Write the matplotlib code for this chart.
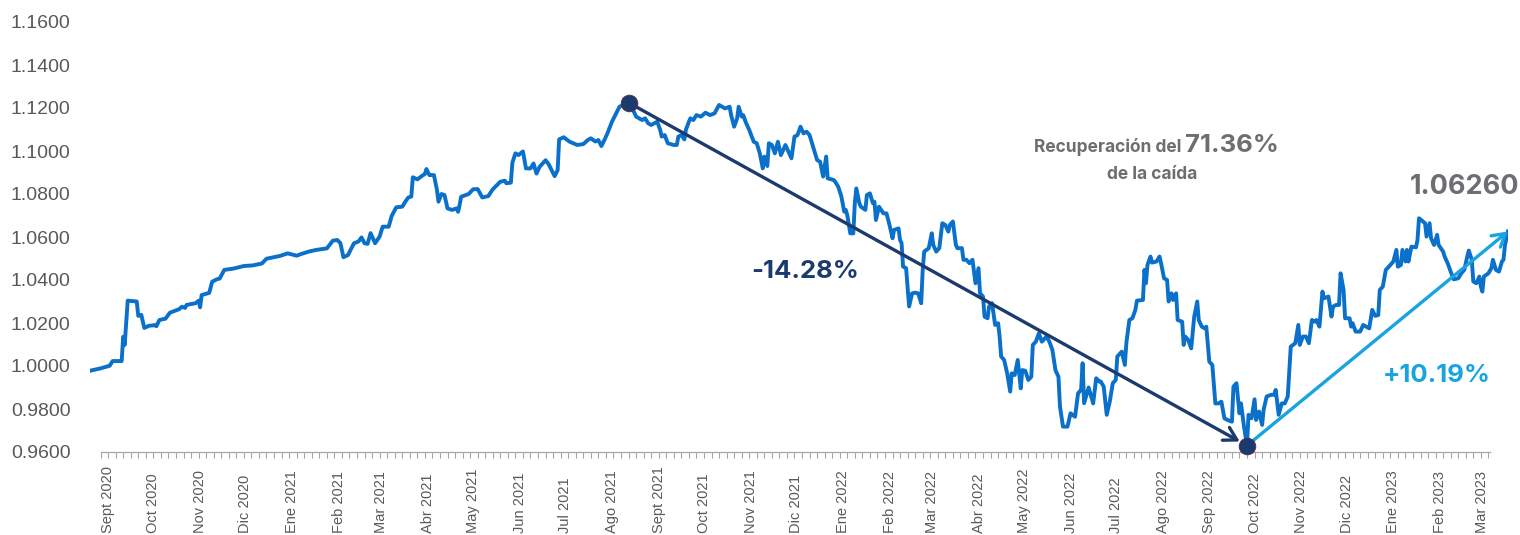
import matplotlib
matplotlib.use("Agg")
import matplotlib.pyplot as plt
import matplotlib.dates as mdates
import matplotlib.transforms as mtransforms
from matplotlib.ticker import FormatStrFormatter
import numpy as np
import pandas as pd

# ---- data ------------------------------------------------------------------
START = "2020-08-20"

day_offset = [
    0, 7, 13, 15, 21, 22, 23, 25, 31, 32, 34, 36, 39, 43, 44, 46, 50, 53, 59, 61,
    63, 64, 70, 72, 73, 74, 79, 81, 84, 86, 89, 95, 102, 108, 114, 117, 126, 131,
    137, 140, 145, 150, 157, 161, 164, 166, 168, 171, 175, 178, 180, 182, 184,
    186, 189, 192, 194, 198, 200, 203, 207, 209, 211, 213, 214, 217, 220, 222,
    223, 225, 228, 230, 231, 233, 235, 237, 240, 243, 244, 245, 246, 251, 254,
    257, 260, 264, 267, 272, 275, 276, 279, 280, 282, 284, 287, 289, 292, 294,
    296, 298, 302, 304, 308, 310, 311, 314, 318, 323, 327, 330, 332, 335, 337,
    339, 341, 343, 346, 349, 351, 357, 360, 362, 366, 368, 370, 372, 376, 378,
    379, 381, 383, 387, 389, 390, 392, 394, 395, 397, 398, 400, 402, 405, 408,
    411, 414, 417, 421, 424, 425, 427, 429, 430, 432, 433, 435, 437, 440, 442,
    444, 446, 447, 449, 450, 452, 454, 456, 458, 461, 463, 465, 467, 469, 471,
    473, 475, 477, 479, 482, 484, 486, 488, 489, 493, 494, 496, 498, 500, 501,
    502, 504, 506, 507, 508, 510, 511, 514, 515, 517, 519, 520, 521, 523, 526,
    528, 530, 532, 533, 536, 537, 538, 539, 541, 543, 545, 547, 549, 551, 552,
    553, 556, 558, 559, 561, 563, 565, 567, 569, 570, 572, 574, 575, 578, 579,
    581, 583, 585, 587, 589, 590, 592, 593, 595, 596, 598, 600, 602, 603, 604,
    606, 608, 610, 611, 613, 615, 617, 618, 620, 622, 624, 625, 627, 629, 631,
    634, 636, 638, 640, 642, 643, 645, 648, 650, 653, 655, 657, 658, 659, 662,
    665, 667, 669, 670, 672, 674, 676, 678, 680, 681, 684, 686, 687, 689, 691,
    693, 694, 698, 699, 700, 701, 703, 704, 707, 709, 710, 712, 714, 715, 717,
    718, 720, 721, 724, 725, 726, 728, 730, 732, 734, 735, 737, 739, 740, 742,
    744, 746, 748, 750, 752, 754, 757, 758, 760, 762, 763, 765, 767, 768, 770,
    772, 773, 775, 777, 778, 780, 783, 785, 786, 788, 790, 792, 794, 796, 799,
    801, 802, 804, 806, 808, 810, 812, 813, 815, 817, 818, 821, 823, 824, 826,
    828, 829, 831, 832, 835, 836, 837, 839, 842, 844, 846, 848, 850, 852, 854,
    855, 857, 859, 861, 864, 866, 867, 869, 870, 872, 873, 874, 876, 879, 880,
    881, 883, 885, 886, 888, 889, 891, 893, 894, 897, 898, 900, 902, 904, 907,
    909, 911, 913, 914, 916, 917, 919, 921, 922, 923, 924, 927, 929, 930, 932,
    934, 936, 937, 938, 940,
]

value = [
    0.9978, 0.9989, 1.0001, 1.0023, 1.0023, 1.0136, 1.0098, 1.0304, 1.0300, 1.0233,
    1.0238, 1.0177, 1.0187, 1.0190, 1.0185, 1.0214, 1.0220, 1.0248, 1.0264, 1.0276,
    1.0270, 1.0284, 1.0292, 1.0304, 1.0273, 1.0330, 1.0340, 1.0392, 1.0403, 1.0407,
    1.0447, 1.0453, 1.0465, 1.0468, 1.0477, 1.0499, 1.0512, 1.0524, 1.0513, 1.0521,
    1.0532, 1.0540, 1.0547, 1.0583, 1.0586, 1.0571, 1.0506, 1.0516, 1.0571, 1.0579,
    1.0598, 1.0571, 1.0568, 1.0618, 1.0571, 1.0602, 1.0648, 1.0648, 1.0698, 1.0738,
    1.0741, 1.0764, 1.0784, 1.0788, 1.0878, 1.0868, 1.0884, 1.0893, 1.0916, 1.0888,
    1.0888, 1.0819, 1.0764, 1.0800, 1.0795, 1.0733, 1.0726, 1.0733, 1.0717, 1.0748,
    1.0787, 1.0800, 1.0822, 1.0823, 1.0784, 1.0790, 1.0822, 1.0857, 1.0862, 1.0850,
    1.0853, 1.0946, 1.0989, 1.0981, 1.0998, 1.0919, 1.0919, 1.0942, 1.0895, 1.0926,
    1.0957, 1.0939, 1.0883, 1.0911, 1.1054, 1.1064, 1.1043, 1.1028, 1.1032, 1.1051,
    1.1059, 1.1044, 1.1051, 1.1023, 1.1051, 1.1082, 1.1136, 1.1178, 1.1206, 1.1225,
    1.1191, 1.1160, 1.1144, 1.1152, 1.1129, 1.1121, 1.1136, 1.1098, 1.1067, 1.1074,
    1.1036, 1.1028, 1.1028, 1.1067, 1.1074, 1.1054, 1.1098, 1.1136, 1.1152, 1.1144,
    1.1167, 1.1160, 1.1178, 1.1167, 1.1175, 1.1214, 1.1198, 1.1206, 1.1167, 1.1113,
    1.1152, 1.1206, 1.1160, 1.1167, 1.1129, 1.1098, 1.1043, 1.1036, 1.0989, 1.0919,
    1.0974, 1.0930, 1.1036, 1.1028, 1.0989, 1.1043, 1.0981, 1.1028, 1.0997, 1.0966,
    1.1067, 1.1074, 1.1113, 1.1082, 1.1090, 1.1074, 1.1028, 1.0958, 1.0950, 1.0881,
    1.0974, 1.0873, 1.0865, 1.0857, 1.0834, 1.0791, 1.0718, 1.0726, 1.0702, 1.0617,
    1.0617, 1.0757, 1.0826, 1.0757, 1.0741, 1.0726, 1.0795, 1.0803, 1.0757, 1.0764,
    1.0679, 1.0741, 1.0710, 1.0710, 1.0656, 1.0594, 1.0633, 1.0640, 1.0586, 1.0571,
    1.0462, 1.0455, 1.0277, 1.0338, 1.0341, 1.0338, 1.0292, 1.0447, 1.0532, 1.0548,
    1.0617, 1.0563, 1.0532, 1.0548, 1.0664, 1.0656, 1.0625, 1.0656, 1.0672, 1.0563,
    1.0548, 1.0548, 1.0494, 1.0494, 1.0478, 1.0494, 1.0385, 1.0455, 1.0338, 1.0323,
    1.0230, 1.0222, 1.0277, 1.0292, 1.0191, 1.0199, 1.0137, 1.0044, 1.0028, 0.9966,
    0.9881, 0.9966, 0.9958, 1.0028, 0.9896, 0.9981, 0.9978, 0.9935, 0.9950, 1.0098,
    1.0113, 1.0152, 1.0113, 1.0137, 1.0113, 1.0074, 0.9981, 0.9950, 0.9811, 0.9718,
    0.9718, 0.9780, 0.9764, 0.9873, 0.9889, 1.0013, 0.9827, 0.9900, 0.9826, 0.9943,
    0.9928, 0.9928, 0.9904, 0.9773, 0.9834, 0.9920, 0.9935, 1.0044, 1.0067, 1.0005,
    1.0106, 1.0214, 1.0222, 1.0261, 1.0304, 1.0307, 1.0447, 1.0385, 1.0470, 1.0509,
    1.0481, 1.0486, 1.0509, 1.0478, 1.0408, 1.0400, 1.0300, 1.0338, 1.0307, 1.0338,
    1.0214, 1.0206, 1.0098, 1.0137, 1.0121, 1.0082, 1.0230, 1.0300, 1.0214, 1.0183,
    1.0175, 1.0183, 1.0020, 1.0005, 0.9826, 0.9826, 0.9834, 0.9757, 0.9749, 0.9741,
    0.9904, 0.9920, 0.9780, 0.9826, 0.9718, 0.9630, 0.9773, 0.9757, 0.9845, 0.9749,
    0.9788, 0.9726, 0.9796, 0.9858, 0.9866, 0.9866, 0.9889, 0.9773, 0.9826, 0.9826,
    0.9858, 1.0090, 1.0106, 1.0191, 1.0098, 1.0137, 1.0137, 1.0106, 1.0214, 1.0206,
    1.0214, 1.0183, 1.0346, 1.0315, 1.0323, 1.0230, 1.0276, 1.0284, 1.0284, 1.0431,
    1.0354, 1.0222, 1.0222, 1.0183, 1.0199, 1.0160, 1.0160, 1.0191, 1.0183, 1.0175,
    1.0261, 1.0233, 1.0237, 1.0354, 1.0369, 1.0447, 1.0462, 1.0486, 1.0540, 1.0462,
    1.0470, 1.0540, 1.0486, 1.0540, 1.0486, 1.0555, 1.0552, 1.0586, 1.0687, 1.0676,
    1.0664, 1.0602, 1.0664, 1.0594, 1.0563, 1.0610, 1.0563, 1.0532, 1.0509, 1.0478,
    1.0439, 1.0403, 1.0408, 1.0431, 1.0447, 1.0509, 1.0537, 1.0494, 1.0393, 1.0385,
    1.0416, 1.0369, 1.0346, 1.0416, 1.0431, 1.0455, 1.0494, 1.0447, 1.0439, 1.0486,
    1.0494, 1.0563, 1.0626,
]

month_labels = [
    "Sept 2020", "Oct 2020", "Nov 2020", "Dic 2020", "Ene 2021", "Feb 2021",
    "Mar 2021", "Abr 2021", "May 2021", "Jun 2021", "Jul 2021", "Ago 2021",
    "Sept 2021", "Oct 2021", "Nov 2021", "Dic 2021", "Ene 2022", "Feb 2022",
    "Mar 2022", "Abr 2022", "May 2022", "Jun 2022", "Jul 2022", "Ago 2022",
    "Sep 2022", "Oct 2022", "Nov 2022", "Dic 2022", "Ene 2023", "Feb 2023",
    "Mar 2023",
]

caida_txt = "-14.28%"
alza_txt = "+10.19%"
recup_txt = "71.36%"
ultimo_txt = "1.06260"

# ---- style -----------------------------------------------------------------
LINE = "#0a70c9"
NAVY = "#1b3a6d"
CYAN = "#17a4e1"
GRAY = "#6d6e71"
AXIS_TXT = "#595959"
AXIS_LINE = "#a6a6a6"
ANNOT_FONT = ["Inter", "DejaVu Sans"]

W, H = 1520, 535


def fx(px):
    return px / W


def fy(py):
    return 1 - py / H


dates = pd.Timestamp(START) + pd.to_timedelta(day_offset, unit="D")
vals = np.array(value)

fig = plt.figure(figsize=(W / 100, H / 100), dpi=100)
fig.patch.set_facecolor("white")
ax = fig.add_axes([fx(90), 83 / H, 1418 / W, 430 / H])

ax.plot(dates, vals, color=LINE, lw=2.8, zorder=2, solid_joinstyle="round")

ax.set_xlim(dates[0], dates[-1])
ax.set_ylim(0.96, 1.16)

# y axis: labels only
ax.set_yticks(np.arange(0.96, 1.1601, 0.02))
ax.yaxis.set_major_formatter(FormatStrFormatter("%.4f"))
ax.tick_params(axis="y", length=0, pad=14, labelsize=14, labelcolor=AXIS_TXT)
for lab in ax.get_yticklabels():
    lab.set_family("Liberation Sans")
for side in ["top", "right", "left"]:
    ax.spines[side].set_visible(False)

# x axis: thin line with small ticks every 5 days, month labels below
start = pd.Timestamp(START)
axis_from = start + pd.Timedelta(days=7)
axis_to = start + pd.Timedelta(days=928)
ax.spines["bottom"].set_color(AXIS_LINE)
ax.spines["bottom"].set_linewidth(0.9)
ax.spines["bottom"].set_bounds(mdates.date2num(axis_from), mdates.date2num(axis_to))
tick_dates = pd.date_range(axis_from, axis_to, freq="5D")
ax.set_xticks(tick_dates)
ax.tick_params(axis="x", length=4, width=0.8, color=AXIS_LINE, direction="out",
               labelbottom=False)

month_starts = pd.date_range("2020-09-01", periods=len(month_labels), freq="MS")
trans = mtransforms.blended_transform_factory(ax.transData, fig.transFigure)
for d, lab in zip(month_starts, month_labels):
    ax.text(d, 2 / H, lab, transform=trans, rotation=90, ha="center", va="bottom",
            fontsize=10.5, color=AXIS_TXT, family="Liberation Sans")

# peak / trough / last
i_max = int(np.argmax(vals))
i_min = int(np.argmin(vals))

ax.annotate("", xy=(dates[i_min], vals[i_min]), xytext=(dates[i_max], vals[i_max]),
            arrowprops=dict(arrowstyle="->,head_length=0.6,head_width=0.35",
                            color=NAVY, lw=2.4, shrinkA=0, shrinkB=6,
                            mutation_scale=15),
            zorder=4)
ax.annotate("", xy=(dates[-1], vals[-1]), xytext=(dates[i_min], vals[i_min]),
            arrowprops=dict(arrowstyle="->,head_length=0.6,head_width=0.35",
                            color=CYAN, lw=2.4, shrinkA=0, shrinkB=0,
                            mutation_scale=15),
            zorder=4)

ax.plot([dates[i_max], dates[i_min]], [vals[i_max], vals[i_min]], "o", ms=12,
        color=NAVY, mec="#5b2a4d", mew=0.6, zorder=5, clip_on=False)

# annotations
fig.text(fx(805), fy(271), caida_txt, ha="center", va="center", fontsize=18.5,
         fontweight="bold", color=NAVY, family=ANNOT_FONT)
fig.text(fx(1437), fy(375), alza_txt, ha="center", va="center", fontsize=18.5,
         fontweight="bold", color=CYAN, family=ANNOT_FONT)
fig.text(fx(1465), fy(187), ultimo_txt, ha="center", va="center", fontsize=19.5,
         fontweight="bold", color=GRAY, family=ANNOT_FONT)
fig.text(fx(1181), fy(152), "Recuperación del", ha="right", va="baseline",
         fontsize=12.5, fontweight="bold", color=GRAY, family=ANNOT_FONT)
fig.text(fx(1185), fy(152), recup_txt, ha="left", va="baseline", fontsize=18.5,
         fontweight="bold", color=GRAY, family=ANNOT_FONT)
fig.text(fx(1152), fy(179), "de la caída", ha="center", va="baseline",
         fontsize=12.5, fontweight="bold", color=GRAY, family=ANNOT_FONT)

fig.savefig("out.png", dpi=100, facecolor="white")
